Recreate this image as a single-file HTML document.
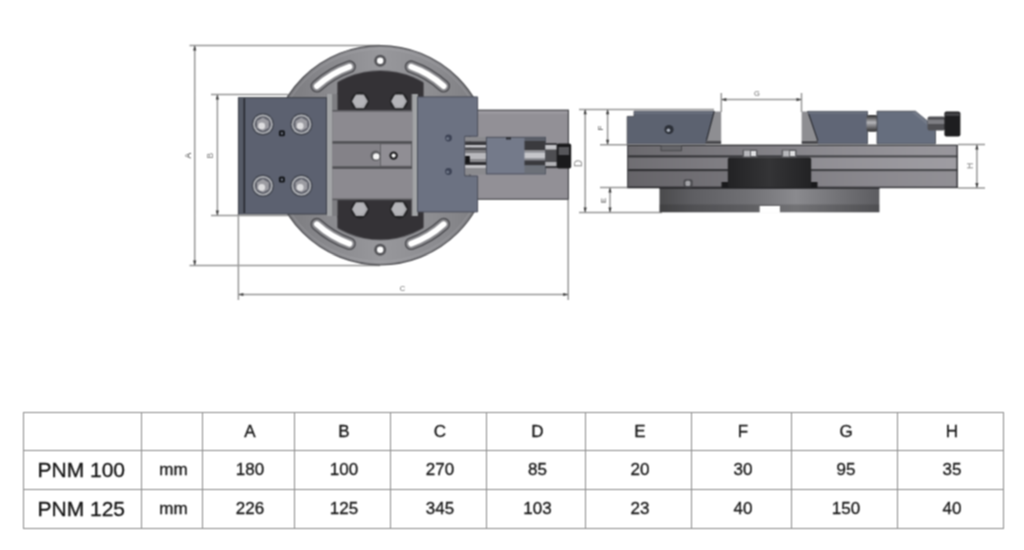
<!DOCTYPE html>
<html lang="en">
<head>
<meta charset="utf-8">
<title>PNM machine vise dimensions</title>
<style>
html,body{margin:0;padding:0;background:#fff;}
body{width:1024px;height:550px;overflow:hidden;position:relative;font-family:"Liberation Sans",sans-serif;}
#drawing{position:absolute;left:0;top:0;width:1024px;height:400px;display:block;}
#dims{filter:url(#soft);position:absolute;left:23px;top:412px;border-collapse:collapse;table-layout:fixed;width:981px;}
#dims td,#dims th{border:1px solid #8a8a8a;padding:0 0 0 3px;text-align:center;vertical-align:middle;font-weight:normal;font-size:17px;color:#141414;-webkit-text-stroke:0.3px #141414;box-sizing:border-box;overflow:hidden;white-space:nowrap;}
#dims tr.r0 th{height:38px;}
#dims tr.r1 td,#dims tr.r1 th{height:39px;}
#dims th.model{font-size:21px;text-align:left;padding-left:13.5px;color:#101010;}
#dims th.model span{position:relative;top:0px;}
</style>
</head>
<body>
<svg id="drawing" width="1024" height="400" viewBox="0 0 1024 400">
<defs>
<linearGradient id="gPlate" x1="0" y1="0" x2="1" y2="0">
<stop offset="0" stop-color="#76767a"/><stop offset="0.25" stop-color="#88888c"/><stop offset="0.5" stop-color="#98989c"/><stop offset="0.75" stop-color="#8c8c90"/><stop offset="1" stop-color="#7a7a7e"/>
</linearGradient>
<linearGradient id="gCylV" x1="0" y1="0" x2="0" y2="1">
<stop offset="0" stop-color="#2c2c2e"/><stop offset="0.45" stop-color="#b4b4b8"/><stop offset="0.6" stop-color="#8c8c90"/><stop offset="1" stop-color="#2c2c2e"/>
</linearGradient>
<linearGradient id="gBase" x1="0" y1="0" x2="1" y2="0">
<stop offset="0" stop-color="#4a4a4c"/><stop offset="0.15" stop-color="#5e5e62"/><stop offset="0.4" stop-color="#707074"/><stop offset="0.62" stop-color="#8a8a8e"/><stop offset="0.8" stop-color="#747478"/><stop offset="1" stop-color="#5c5c60"/>
</linearGradient>
<linearGradient id="gRail" x1="0" y1="0" x2="1" y2="0">
<stop offset="0" stop-color="#000" stop-opacity="0.27"/><stop offset="0.45" stop-color="#000" stop-opacity="0.1"/><stop offset="1" stop-color="#fff" stop-opacity="0.06"/>
</linearGradient>
<linearGradient id="gSwivel" x1="0" y1="0" x2="1" y2="0">
<stop offset="0" stop-color="#222224"/><stop offset="0.5" stop-color="#343436"/><stop offset="1" stop-color="#222224"/>
</linearGradient>
<radialGradient id="gScrew" cx="0.45" cy="0.45" r="0.6">
<stop offset="0" stop-color="#e8e8ea"/><stop offset="0.45" stop-color="#b0b0b4"/><stop offset="0.7" stop-color="#8a8a90"/><stop offset="1" stop-color="#6a6c74"/>
</radialGradient>
<clipPath id="clipPl"><rect x="240" y="40" width="237" height="230"/></clipPath>
<clipPath id="clipSw"><rect x="337.5" y="60" width="86" height="190"/></clipPath>
<filter id="soft" x="-2%" y="-2%" width="104%" height="104%" color-interpolation-filters="sRGB"><feConvolveMatrix order="3" kernelMatrix="1 2 1 2 4 2 1 2 1" divisor="16" edgeMode="none" preserveAlpha="false"/></filter>
</defs>
<g filter="url(#soft)">
<path d="M189.5 45.6L380 45.6M189.5 265.4L380 265.4M194.7 45.6L194.7 265.4M211 94.4L288 94.4M211 215.6L288 215.6M217.4 94.4L217.4 215.6M238.4 214L238.4 300M568.2 200L568.2 300M238.4 294.5L568.2 294.5M579 109.4L714 109.4M579 212.4L662 212.4M585.2 109.2L585.2 212.4M600 144.7L628 144.7M607.6 109.2L607.6 144.7M600 187.4L660 187.4M610 187.4L610 212.4M721.3 93L721.3 112M801.5 93L801.5 112M721.3 99.6L801.5 99.6M958 144.6L985 144.6M958 187.9L985 187.9M976.9 144.6L976.9 187.9" fill="none" stroke="#989898" stroke-width="1.5"/>
<g fill="#3c3c3c"><path d="M194.7 45.6l-1.6 5h3.2z"/><path d="M194.7 265.4l-1.6 -5h3.2z"/><path d="M217.4 94.4l-1.6 5h3.2z"/><path d="M217.4 215.6l-1.6 -5h3.2z"/><path d="M238.4 294.5l5 -1.6v3.2z"/><path d="M568.2 294.5l-5 -1.6v3.2z"/><path d="M585.2 109.2l-1.6 5h3.2z"/><path d="M585.2 212.4l-1.6 -5h3.2z"/><path d="M607.6 109.2l-1.6 5h3.2z"/><path d="M607.6 144.7l-1.6 -5h3.2z"/><path d="M610 187.4l-1.6 5h3.2z"/><path d="M610 212.4l-1.6 -5h3.2z"/><path d="M721.3 99.6l5 -1.6v3.2z"/><path d="M801.5 99.6l-5 -1.6v3.2z"/><path d="M976.9 144.6l-1.6 5h3.2z"/><path d="M976.9 187.9l-1.6 -5h3.2z"/></g>
<circle cx="380.3" cy="155.2" r="109.6" fill="url(#gPlate)" stroke="#4c4c50" stroke-width="1.2" clip-path="url(#clipPl)"/>
<circle cx="380.3" cy="155.2" r="106.39999999999999" fill="none" stroke="#b0b0b4" stroke-width="1" opacity="0.45"/>
<path d="M411.1 66.7A93.7 93.7 0 0 1 443.7 86.2" fill="none" stroke="#4c4c50" stroke-width="12.8" stroke-linecap="round"/>
<path d="M411.1 66.7A93.7 93.7 0 0 1 443.7 86.2" fill="none" stroke="#8a8a8e" stroke-width="10" stroke-linecap="round"/>
<path d="M411.1 66.7A93.7 93.7 0 0 1 443.7 86.2" fill="none" stroke="#ffffff" stroke-width="5.8" stroke-linecap="round"/>
<path d="M349.5 66.7A93.7 93.7 0 0 0 316.9 86.2" fill="none" stroke="#4c4c50" stroke-width="12.8" stroke-linecap="round"/>
<path d="M349.5 66.7A93.7 93.7 0 0 0 316.9 86.2" fill="none" stroke="#8a8a8e" stroke-width="10" stroke-linecap="round"/>
<path d="M349.5 66.7A93.7 93.7 0 0 0 316.9 86.2" fill="none" stroke="#ffffff" stroke-width="5.8" stroke-linecap="round"/>
<path d="M411.1 243.7A93.7 93.7 0 0 0 443.7 224.2" fill="none" stroke="#4c4c50" stroke-width="12.8" stroke-linecap="round"/>
<path d="M411.1 243.7A93.7 93.7 0 0 0 443.7 224.2" fill="none" stroke="#8a8a8e" stroke-width="10" stroke-linecap="round"/>
<path d="M411.1 243.7A93.7 93.7 0 0 0 443.7 224.2" fill="none" stroke="#ffffff" stroke-width="5.8" stroke-linecap="round"/>
<path d="M349.5 243.7A93.7 93.7 0 0 1 316.9 224.2" fill="none" stroke="#4c4c50" stroke-width="12.8" stroke-linecap="round"/>
<path d="M349.5 243.7A93.7 93.7 0 0 1 316.9 224.2" fill="none" stroke="#8a8a8e" stroke-width="10" stroke-linecap="round"/>
<path d="M349.5 243.7A93.7 93.7 0 0 1 316.9 224.2" fill="none" stroke="#ffffff" stroke-width="5.8" stroke-linecap="round"/>
<circle cx="380.2" cy="60.8" r="6" fill="#56565a"/>
<circle cx="380.2" cy="60.8" r="3.2" fill="#ffffff"/>
<circle cx="380.2" cy="249.8" r="6" fill="#56565a"/>
<circle cx="380.2" cy="249.8" r="3.2" fill="#ffffff"/>
<circle cx="380.3" cy="155.2" r="85.2" fill="#6a6a6e" clip-path="url(#clipSw)"/>
<circle cx="380.3" cy="155.2" r="84.3" fill="#343236" clip-path="url(#clipSw)"/>
<circle cx="359.9" cy="101.3" r="9.2" fill="#242426"/>
<polygon points="367.9,101.3 363.9,108.2 355.9,108.2 351.9,101.3 355.9,94.4 363.9,94.4" fill="#a8a8ac"/>
<circle cx="359.4" cy="100.8" r="6" fill="#b4b4b8"/>
<circle cx="359.9" cy="209.2" r="9.2" fill="#242426"/>
<polygon points="367.9,209.2 363.9,216.1 355.9,216.1 351.9,209.2 355.9,202.3 363.9,202.3" fill="#a8a8ac"/>
<circle cx="359.4" cy="208.7" r="6" fill="#b4b4b8"/>
<circle cx="399.0" cy="101.3" r="9.2" fill="#242426"/>
<polygon points="407.0,101.3 403.0,108.2 395.0,108.2 391.0,101.3 395.0,94.4 403.0,94.4" fill="#a8a8ac"/>
<circle cx="398.5" cy="100.8" r="6" fill="#b4b4b8"/>
<circle cx="399.0" cy="209.2" r="9.2" fill="#242426"/>
<polygon points="407.0,209.2 403.0,216.1 395.0,216.1 391.0,209.2 395.0,202.3 403.0,202.3" fill="#a8a8ac"/>
<circle cx="398.5" cy="208.7" r="6" fill="#b4b4b8"/>
<rect x="326" y="94" width="92" height="122" fill="#7e7e82"/>
<rect x="327" y="94" width="5" height="122" fill="#a2a4a6"/>
<rect x="412.5" y="94" width="5" height="122" fill="#a2a4a6"/>
<path d="M337.5 82.6V110.5H411.5V94H423.5V82.6Z" fill="none"/>
<rect x="337.5" y="93" width="74" height="18" fill="#343236"/>
<rect x="337.5" y="199" width="74" height="18.5" fill="#343236"/>
<circle cx="359.9" cy="101.3" r="9.2" fill="#242426"/>
<polygon points="367.9,101.3 363.9,108.2 355.9,108.2 351.9,101.3 355.9,94.4 363.9,94.4" fill="#a8a8ac"/>
<circle cx="359.4" cy="100.8" r="6" fill="#b4b4b8"/>
<circle cx="359.9" cy="209.2" r="9.2" fill="#242426"/>
<polygon points="367.9,209.2 363.9,216.1 355.9,216.1 351.9,209.2 355.9,202.3 363.9,202.3" fill="#a8a8ac"/>
<circle cx="359.4" cy="208.7" r="6" fill="#b4b4b8"/>
<circle cx="399.0" cy="101.3" r="9.2" fill="#242426"/>
<polygon points="407.0,101.3 403.0,108.2 395.0,108.2 391.0,101.3 395.0,94.4 403.0,94.4" fill="#a8a8ac"/>
<circle cx="398.5" cy="100.8" r="6" fill="#b4b4b8"/>
<circle cx="399.0" cy="209.2" r="9.2" fill="#242426"/>
<polygon points="407.0,209.2 403.0,216.1 395.0,216.1 391.0,209.2 395.0,202.3 403.0,202.3" fill="#a8a8ac"/>
<circle cx="398.5" cy="208.7" r="6" fill="#b4b4b8"/>
<rect x="332.5" y="110.5" width="79.5" height="89" fill="#8c8a90"/>
<rect x="332.5" y="110" width="79.5" height="1.6" fill="#5a5a5e"/>
<rect x="332.5" y="198.6" width="79.5" height="1.6" fill="#5a5a5e"/>
<rect x="332.5" y="141.2" width="79.5" height="2.6" fill="#4e4e52"/>
<rect x="332.5" y="166.2" width="79.5" height="2.6" fill="#4e4e52"/>
<rect x="332.5" y="143.8" width="48" height="22.4" fill="#848288"/>
<rect x="380.4" y="143.8" width="31" height="22.4" fill="#908e94" stroke="#5a5a5e" stroke-width="0.8"/>
<circle cx="375.6" cy="155.8" r="5.2" fill="#5e5e62"/>
<circle cx="376.2" cy="156.4" r="3.2" fill="#f4f4f4"/>
<circle cx="393.6" cy="155.6" r="4.2" fill="#1e1e20"/>
<circle cx="393.6" cy="155.6" r="2.1" fill="#f0f0f0"/>
<rect x="470" y="110.2" width="98.4" height="89" fill="#929096" stroke="#48484c" stroke-width="1.2"/>
<rect x="471" y="111" width="96.4" height="3" fill="#9a989e"/>
<rect x="238.4" y="97.7" width="88" height="116.3" fill="#5c6170" stroke="#3c4048" stroke-width="1"/>
<rect x="239" y="98.2" width="5" height="114.8" fill="#555a66"/>
<rect x="243.6" y="98.2" width="1.5" height="114.8" fill="#24262c"/>
<circle cx="262.9" cy="124.3" r="11.2" fill="#464a54"/>
<circle cx="262.9" cy="124.3" r="9.8" fill="#b2b4b8"/>
<circle cx="262.9" cy="124.3" r="8.1" fill="#5e606a"/>
<polygon points="268.8,127.7 262.9,131.1 257.0,127.7 257.0,120.9 262.9,117.5 268.8,120.9" fill="#9c9ca2"/>
<circle cx="261.7" cy="125.89999999999999" r="3.4" fill="#e4e4e6" opacity="0.9"/>
<circle cx="262.9" cy="185.8" r="11.2" fill="#464a54"/>
<circle cx="262.9" cy="185.8" r="9.8" fill="#b2b4b8"/>
<circle cx="262.9" cy="185.8" r="8.1" fill="#5e606a"/>
<polygon points="268.8,189.2 262.9,192.6 257.0,189.2 257.0,182.4 262.9,179.0 268.8,182.4" fill="#9c9ca2"/>
<circle cx="261.7" cy="187.4" r="3.4" fill="#e4e4e6" opacity="0.9"/>
<circle cx="301.4" cy="124.3" r="11.2" fill="#464a54"/>
<circle cx="301.4" cy="124.3" r="9.8" fill="#b2b4b8"/>
<circle cx="301.4" cy="124.3" r="8.1" fill="#5e606a"/>
<polygon points="307.3,127.7 301.4,131.1 295.5,127.7 295.5,120.9 301.4,117.5 307.3,120.9" fill="#9c9ca2"/>
<circle cx="300.2" cy="125.89999999999999" r="3.4" fill="#e4e4e6" opacity="0.9"/>
<circle cx="301.4" cy="185.8" r="11.2" fill="#464a54"/>
<circle cx="301.4" cy="185.8" r="9.8" fill="#b2b4b8"/>
<circle cx="301.4" cy="185.8" r="8.1" fill="#5e606a"/>
<polygon points="307.3,189.2 301.4,192.6 295.5,189.2 295.5,182.4 301.4,179.0 307.3,182.4" fill="#9c9ca2"/>
<circle cx="300.2" cy="187.4" r="3.4" fill="#e4e4e6" opacity="0.9"/>
<rect x="278.9" y="130.3" width="6" height="6" rx="1.6" fill="#14161a"/>
<rect x="280.79999999999995" y="132.20000000000002" width="2.2" height="2.2" rx="0.6" fill="#6e7482"/>
<rect x="278.9" y="176.6" width="6" height="6" rx="1.6" fill="#14161a"/>
<rect x="280.79999999999995" y="178.5" width="2.2" height="2.2" rx="0.6" fill="#6e7482"/>
<path d="M417.5 96.9H477.6V136.2H464.8V176H477.6V211.9H417.5Z" fill="#6c7282" stroke="#4a4e5a" stroke-width="1"/>
<circle cx="448.5" cy="138" r="3.4" fill="#3c4254"/>
<circle cx="447.7" cy="138.5" r="1.6" fill="#6e7686"/>
<circle cx="448.5" cy="171.5" r="3.4" fill="#3c4254"/>
<circle cx="447.7" cy="172.0" r="1.6" fill="#6e7686"/>
<rect x="465.2" y="137" width="21.4" height="4.5" fill="#8a8a8e"/>
<rect x="465.2" y="141.5" width="21.4" height="3.5" fill="#38383c"/>
<rect x="465.2" y="145" width="21.4" height="2.6" fill="#c4c4c8"/>
<rect x="465.2" y="147.6" width="21.4" height="2.4" fill="#4a4a4e"/>
<rect x="465.2" y="150" width="21.4" height="3" fill="#7c7c80"/>
<rect x="465.2" y="153" width="21.4" height="6" fill="#b8b8bc"/>
<rect x="465.2" y="159" width="21.4" height="3" fill="#8a8a8e"/>
<rect x="465.2" y="162" width="21.4" height="3" fill="#303034"/>
<rect x="465.2" y="165" width="21.4" height="3" fill="#c0c0c4"/>
<rect x="465.2" y="168" width="21.4" height="6.4" fill="#8a8a8e"/>
<rect x="465.2" y="156" width="4.6" height="7.5" fill="#141416"/>
<rect x="486.4" y="137.3" width="59" height="36.6" fill="#747a8a" stroke="#4a4e5a" stroke-width="1"/>
<rect x="524.5" y="137.8" width="20.8" height="3.2" fill="#5a5e68"/>
<rect x="524.5" y="141" width="20.8" height="9" fill="#3a3a3e"/>
<rect x="524.5" y="150" width="20.8" height="2.5" fill="#8c8c90"/>
<rect x="524.5" y="152.5" width="20.8" height="6.0" fill="#c6c6ca"/>
<rect x="524.5" y="158.5" width="20.8" height="2.0" fill="#8c8c90"/>
<rect x="524.5" y="160.5" width="20.8" height="5.0" fill="#3a3a3e"/>
<rect x="524.5" y="165.5" width="20.8" height="7.9" fill="#6c7078"/>
<rect x="506" y="137.3" width="5" height="2.2" fill="#2c2e34"/>
<rect x="545.3" y="143" width="11.6" height="2" fill="#3c3c40"/>
<rect x="545.3" y="145" width="11.6" height="4.6" fill="#c4c4c8"/>
<rect x="545.3" y="149.6" width="11.6" height="12.4" fill="#4e4e52"/>
<rect x="545.3" y="162" width="11.6" height="4" fill="#b2b2b6"/>
<rect x="545.3" y="166" width="11.6" height="2.2" fill="#3c3c40"/>
<rect x="556.6" y="143.6" width="14.6" height="25" rx="2" fill="#1a1a1c"/>
<rect x="558.6" y="147" width="10.5" height="8" fill="#56565a"/>
<path d="M659.5 187.6H879.4V212.3H779.8V206H759.8V212.3H659.5Z" fill="url(#gBase)"/>
<rect x="659.5" y="187.2" width="220" height="1.6" fill="#2a2a2c"/>
<path d="M659.5 204.6H879.4V212.3H659.5Z" fill="#1e1e20" opacity="0.22"/>
<rect x="759.8" y="206" width="20" height="6.6" fill="#ffffff"/>
<rect x="627.2" y="145" width="330.5" height="43" fill="#8c8a90"/>
<rect x="627.2" y="145" width="330.5" height="10.6" fill="#929096"/>
<rect x="627.2" y="155.4" width="330.5" height="2.2" fill="#404044"/>
<rect x="627.2" y="157.6" width="330.5" height="11.6" fill="#98969c"/>
<rect x="627.2" y="169" width="330.5" height="2.4" fill="#404044"/>
<rect x="627.2" y="171.4" width="330.5" height="15.6" fill="#8a888e"/>
<rect x="627.2" y="144.6" width="330.5" height="1.4" fill="#3c3c40"/>
<rect x="627.2" y="186.6" width="330.5" height="1.6" fill="#38383c"/>
<rect x="627.2" y="145" width="330.5" height="43" fill="url(#gRail)"/>
<rect x="956.4" y="145" width="1.4" height="43" fill="#3c3c40"/>
<rect x="627.2" y="145" width="1.2" height="43" fill="#4c4c50"/>
<rect x="721.5" y="182" width="96" height="5.8" fill="#1a1a1c"/>
<rect x="727.8" y="157.4" width="83.4" height="30" rx="2" fill="url(#gSwivel)"/>
<rect x="742.5" y="149.6" width="15" height="7.8" rx="1" fill="#5c5c60"/>
<rect x="744.0" y="150.6" width="6" height="5.8" fill="#b8b8bc"/>
<rect x="751.0" y="151" width="5" height="5" fill="#e0e0e2"/>
<rect x="781.6" y="149.6" width="15" height="7.8" rx="1" fill="#5c5c60"/>
<rect x="783.1" y="150.6" width="6" height="5.8" fill="#b8b8bc"/>
<rect x="790.1" y="151" width="5" height="5" fill="#e0e0e2"/>
<rect x="683.6" y="179.2" width="9" height="8.4" rx="2" fill="#4a4a4e"/>
<rect x="685.4" y="180.8" width="5" height="5.2" rx="1.5" fill="#a4a4a8"/>
<path d="M627.2 116.4H634V111.2H714.2L705.6 143.8H627.2Z" fill="#5c6270" stroke="#3c4048" stroke-width="0.8"/>
<path d="M634 111.4H714.2L713.4 114H634Z" fill="#6c7280" opacity="0.8"/>
<path d="M714.2 111.4H721.2V140.6H706.4Z" fill="#8e8e92"/>
<path d="M714.2 111.4L706.4 140.6" stroke="#2c2e34" stroke-width="1.2" fill="none"/>
<path d="M706.4 140.6H721.2V144H705.4Z" fill="#4c4c50"/>
<circle cx="669" cy="129.5" r="4.6" fill="#2c3038"/>
<circle cx="668.4" cy="130.2" r="1.8" fill="#aab0bc"/>
<rect x="661" y="145.4" width="20.4" height="5.4" fill="#66666a" stroke="#404044" stroke-width="0.8"/>
<path d="M807.8 111.4H867.5V143.8H817.8Z" fill="#606676" stroke="#3c4048" stroke-width="0.8"/>
<path d="M801.6 111.4H807.8L817.8 140.6H801.6Z" fill="#8e8e92"/>
<path d="M807.8 111.4L817.8 140.6" stroke="#2c2e34" stroke-width="1.2" fill="none"/>
<path d="M801.6 140.6H817.8V144H801.6Z" fill="#4c4c50"/>
<rect x="808" y="111.4" width="59.5" height="2.6" fill="#6c7280" opacity="0.8"/>
<rect x="866.5" y="115" width="11.5" height="16.8" rx="3" fill="url(#gCylV)"/>
<path d="M877 111.2H915.4L935.5 127.6V143.8H877Z" fill="#666e7e" stroke="#3c4048" stroke-width="0.8"/>
<path d="M915.4 111.2L935.5 127.6V132L912 112.6Z" fill="#767c8a" opacity="0.8"/>
<rect x="927.5" y="116.4" width="17.5" height="14" rx="2" fill="#505054"/>
<rect x="928" y="119.6" width="17" height="4.4" fill="#8a8a8e" opacity="0.8"/>
<rect x="944.4" y="111.6" width="16" height="24.8" rx="2" fill="#1e1e20"/>
<rect x="945.4" y="113" width="14" height="3" fill="#4a4a4e" opacity="0.8"/>
</g>
<g font-family="'Liberation Sans',sans-serif" font-size="8.5" fill="#505050" text-anchor="middle" filter="url(#soft)">
<text transform="translate(190.6 155.6) rotate(-90)" x="0" y="0" fill="#3c3c3c">A</text>
<text transform="translate(213.2 155.6) rotate(-90)" x="0" y="0" fill="#7a7a7a">B</text>
<text x="402.5" y="290.6" font-size="7.5" fill="#6a6a6a">C</text>
<text transform="translate(582.4 163.4) rotate(-90)" x="0" y="0" font-size="10" fill="#8a8a8a">D</text>
<text transform="translate(602.6 128) rotate(-90)" x="0" y="0" font-size="7.5">F</text>
<text transform="translate(605.6 200.4) rotate(-90)" x="0" y="0" font-size="7.5">E</text>
<text x="757" y="96" font-size="7.5" fill="#6a6a6a">G</text>
<text transform="translate(972.5 166) rotate(-90)" x="0" y="0" fill="#7a7a7a">H</text>
</g>
</svg>
<table id="dims">
<colgroup><col style="width:118px"><col style="width:61px"><col style="width:92px"><col style="width:96px"><col style="width:96px"><col style="width:99px"><col style="width:106px"><col style="width:100px"><col style="width:106px"><col style="width:106px"></colgroup>
<tr class="r0"><th></th><th></th><th><span>A</span></th><th><span>B</span></th><th><span>C</span></th><th><span>D</span></th><th><span>E</span></th><th><span>F</span></th><th><span>G</span></th><th><span>H</span></th></tr>
<tr class="r1"><th class="model"><span>PNM 100</span></th><td><span>mm</span></td><td><span>180</span></td><td><span>100</span></td><td><span>270</span></td><td><span>85</span></td><td><span>20</span></td><td><span>30</span></td><td><span>95</span></td><td><span>35</span></td></tr>
<tr class="r1"><th class="model"><span>PNM 125</span></th><td><span>mm</span></td><td><span>226</span></td><td><span>125</span></td><td><span>345</span></td><td><span>103</span></td><td><span>23</span></td><td><span>40</span></td><td><span>150</span></td><td><span>40</span></td></tr>
</table>
</body>
</html>
